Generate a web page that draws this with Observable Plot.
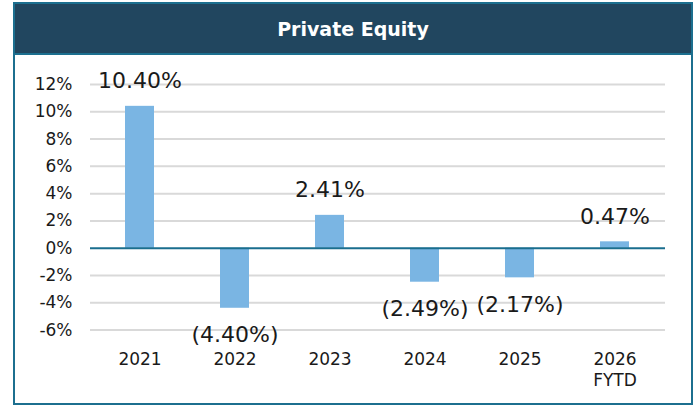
<!DOCTYPE html>
<html>
<head>
<meta charset="utf-8">
<script src="https://cdn.jsdelivr.net/npm/d3@7"></script>
<script src="https://cdn.jsdelivr.net/npm/@observablehq/plot@0.6"></script>
<style>
  html, body { margin: 0; padding: 0; background: #ffffff; }
  body { width: 695px; height: 408px; position: relative; overflow: hidden; font-family: "DejaVu Sans", sans-serif; }
  #frame { position: absolute; left: 13px; top: 2px; width: 676px; height: 399px; border: 2px solid #1c6f8f; background: #fff; }
  #header { height: 49px; background: #21465f; border-bottom: 2px solid #1c6f8f; color: #fff; display: flex; align-items: center; justify-content: center; font-weight: bold; font-size: 19px; }
  #chart svg { display: block; overflow: visible; }
</style>
</head>
<body>
<div id="frame">
  <div id="header">Private Equity</div>
  <div id="chart"></div>
</div>
<script>
const years = ["2021", "2022", "2023", "2024", "2025", "2026\nFYTD"];
const returns = [10.40, -4.40, 2.41, -2.49, -2.17, 0.47];
const yTicks = [-6, -4, -2, 0, 2, 4, 6, 8, 10, 12];

const fmt = v => v < 0 ? "(" + Math.abs(v).toFixed(2) + "%)" : v.toFixed(2) + "%";
const data = years.map((y, i) => ({ year: y, value: returns[i], label: fmt(returns[i]) }));

const chart = Plot.plot({
  width: 676,
  height: 348,
  marginLeft: 75,
  marginRight: 26,
  marginTop: 29,
  marginBottom: 73.4,
  style: { fontFamily: "DejaVu Sans, sans-serif", fontSize: "17px", color: "#1a1a1a", background: "transparent" },
  x: { domain: years, paddingInner: 0.69, paddingOuter: 0.345, label: null },
  y: { domain: [-6, 12], label: null },
  marks: [
    Plot.ruleY(yTicks.filter(d => d !== 0), { stroke: "#d9d9d9", strokeWidth: 2 }),
    Plot.barY(data, { x: "year", y: "value", fill: "#7ab5e3" }),
    Plot.ruleY([0], { stroke: "#1a6e8e", strokeWidth: 2 }),
    Plot.axisY(yTicks, { tickSize: 0, tickPadding: 18, tickFormat: d => d + "%", fontSize: 17, label: null }),
    Plot.axisX({ tickSize: 0, tickPadding: 19.5, fontSize: 17, lineHeight: 1.26, label: null }),
    Plot.text(data.filter(d => d.value >= 0), { x: "year", y: "value", text: "label", dy: -25, fontSize: 22, fill: "#1a1a1a" }),
    Plot.text(data.filter(d => d.value < 0), { x: "year", y: "value", text: "label", dy: 27, fontSize: 22, fill: "#1a1a1a" })
  ]
});
document.getElementById("chart").appendChild(chart);
</script>
</body>
</html>
